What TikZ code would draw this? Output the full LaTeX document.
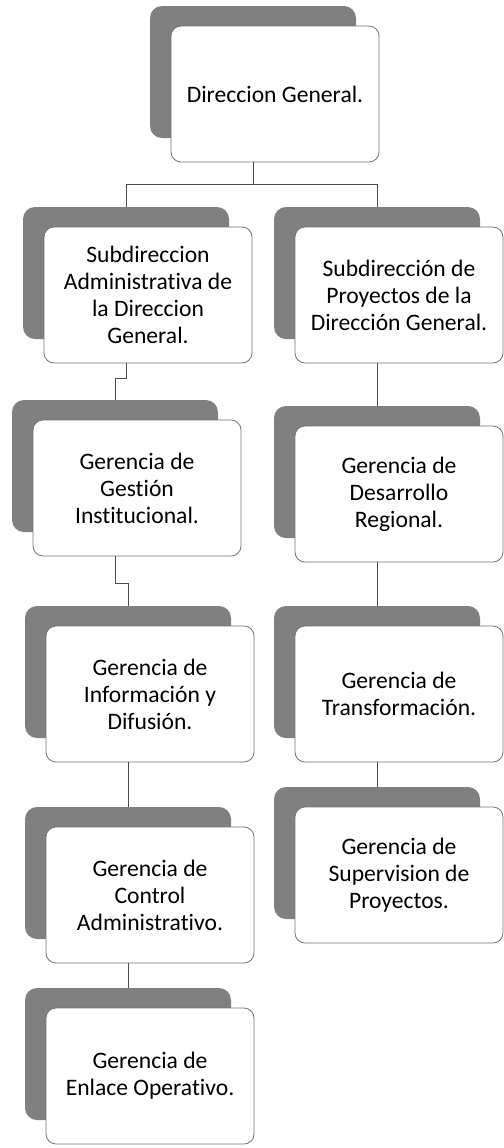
\documentclass[tikz,border=0pt]{standalone}
\usepackage{fontspec}
\setmainfont{Carlito}[Ligatures=NoCommon]
\tikzset{
  caja/.style={draw=black!55,line width=0.4pt,fill=white,rounded corners=5pt,
    minimum width=104pt,minimum height=68pt,inner sep=0pt,align=center,
    font=\fontsize{11.8}{13.5}\selectfont},
  sombra/.style={fill=black!50,rounded corners=6pt,minimum width=103pt,
    minimum height=66pt,inner sep=0pt},
  linea/.style={draw=black!70,line width=0.5pt}
}
\begin{document}
\begin{tikzpicture}[x=0.5pt,y=-0.5pt]
		\useasboundingbox (0,0) rectangle (504,1148);
		% cajas con sombra
		\foreach \n/\x/\y/\t in {
		  dg/275/94/{Direccion General.},
		  sa/148/295/{Subdireccion\\Administrativa de\\la Direccion\\General.},
		  sp/399/295/{Subdirección de\\Proyectos de la\\Dirección General.},
		  gi/137/488/{Gerencia de\\Gestión\\Institucional.},
		  id/150/694/{Gerencia de\\Información y\\Difusión.},
		  ca/150/895/{Gerencia de\\Control\\Administrativo.},
		  eo/150/1076/{Gerencia de\\Enlace Operativo.},
		  dr/399/494/{Gerencia de\\Desarrollo\\Regional.},
		  tf/399/694/{Gerencia de\\Transformación.},
		  sv/399/875/{Gerencia de\\Supervision de\\Proyectos.}}
		{
		  \node[sombra] (s-\n) at (\x-22,\y-22) {};
		  \node[caja] (\n) at (\x,\y) {\t};
		}
		% conectores
		\draw[linea] (s-dg.center |- dg.south) -- ++(0,22) coordinate (rama);
		\draw[linea] (s-sa.north) |- (rama) -| (s-sp.north);
		\draw[linea] (s-sa.center |- sa.south) -- ++(0,15) -| (s-gi.north);
		\draw[linea] (s-gi.center |- gi.south) -- ++(0,27) -| (s-id.north);
		\draw[linea] (s-id.center |- id.south) -- (s-ca.north);
		\draw[linea] (s-ca.center |- ca.south) -- (s-eo.north);
		\draw[linea] (s-sp.center |- sp.south) -- (s-dr.north);
		\draw[linea] (s-dr.center |- dr.south) -- (s-tf.north);
		\draw[linea] (s-tf.center |- tf.south) -- (s-sv.north);
		%\draw (0,0) grid (504,1148);
\end{tikzpicture}
\end{document}
